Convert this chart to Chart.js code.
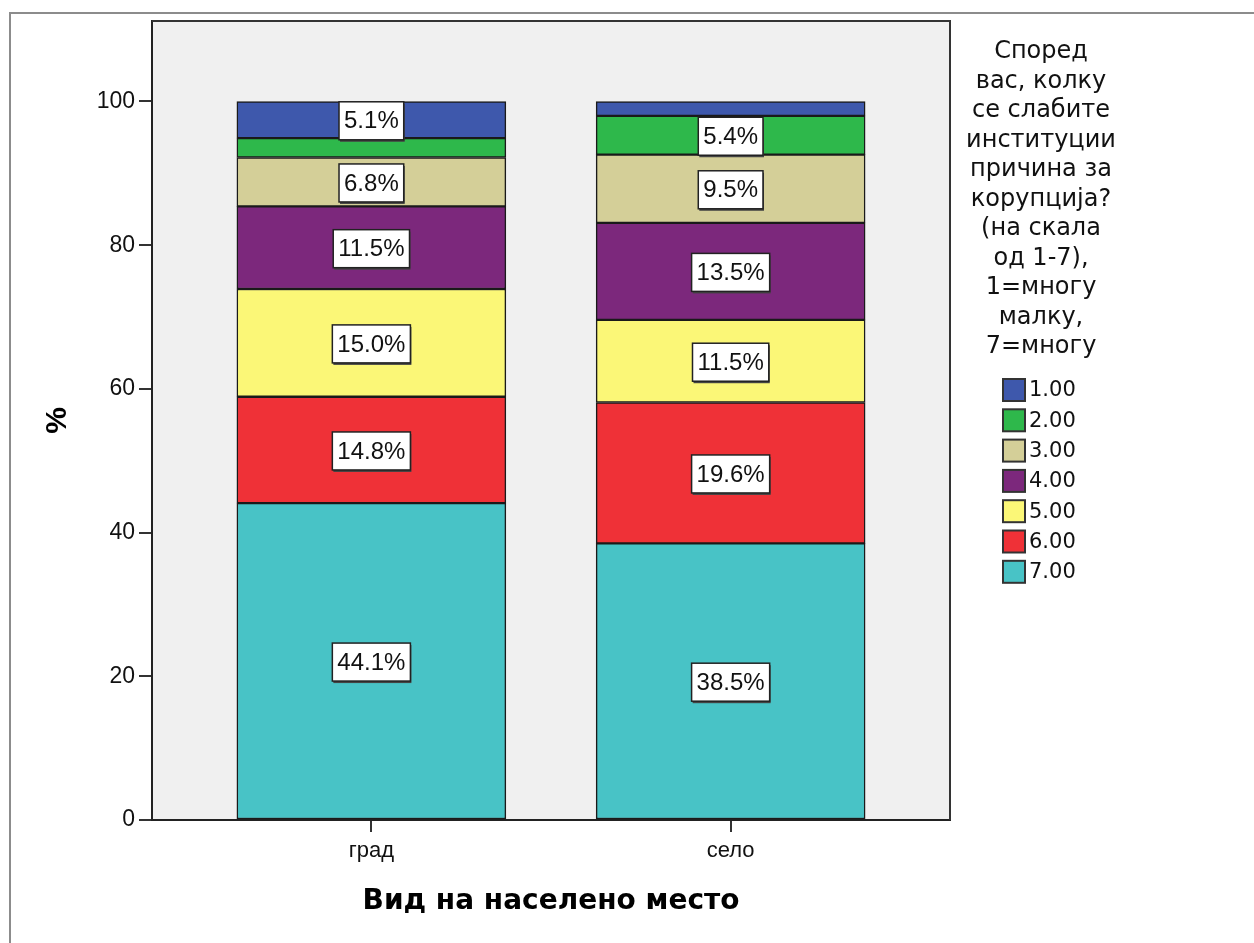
<!DOCTYPE html>
<html>
<head>
<meta charset="utf-8">
<script src="https://cdn.jsdelivr.net/npm/chart.js@4.4.1/dist/chart.umd.min.js"></script>
<style>
  html, body { margin: 0; padding: 0; background: #fff; }
  #wrap { position: relative; width: 1254px; height: 943px; overflow: hidden; }
  #frame { position: absolute; left: 9px; top: 12px; width: 1300px; height: 1000px;
           border-left: 2px solid #8c8c8c; border-top: 2px solid #8c8c8c; }
  canvas { position: absolute; left: 0; top: 0; }
</style>
</head>
<body>
<div id="wrap">
  <div id="frame"></div>
  <canvas id="chart" width="1254" height="943"></canvas>
</div>
<script>
// категории (x оска)
const categories = ['град', 'село'];
// нивоа на скалата, 1.00 .. 7.00
const levels = ['1.00', '2.00', '3.00', '4.00', '5.00', '6.00', '7.00'];
// проценти по ниво, [град, село]
const pct1 = [5.1, 2.0];
const pct2 = [2.7, 5.4];
const pct3 = [6.8, 9.5];
const pct4 = [11.5, 13.5];
const pct5 = [15.0, 11.5];
const pct6 = [14.8, 19.6];
const pct7 = [44.1, 38.5];
const yTicks = [0, 20, 40, 60, 80, 100];
const colors = ['#3e58ac', '#2eb84b', '#d4cf98', '#7c287c', '#fbf777', '#ef3137', '#48c3c6'];
const legendTitle = ['Според', 'вас, колку', 'се слабите', 'институции', 'причина за',
  'корупција?', '(на скала', 'од 1-7),', '1=многу', 'малку,', '7=многу'];

const allPct = [pct1, pct2, pct3, pct4, pct5, pct6, pct7];

// 7.00 е најдолу, па редоследот е обратен
const datasets = [];
for (let i = levels.length - 1; i >= 0; i--) {
  datasets.push({
    label: levels[i],
    data: categories.map((c, k) => ({ x: k, y: allPct[i][k] })),
    backgroundColor: colors[i],
    borderColor: '#1a1a1a',
    borderWidth: 1.5,
    borderSkipped: false,
    barThickness: 269
  });
}

// позадина и рамка на плотот
const plotFrame = {
  id: 'plotFrame',
  beforeDraw(chart) {
    const { ctx, chartArea: a } = chart;
    ctx.save();
    ctx.fillStyle = '#f0f0f0';
    ctx.fillRect(a.left, a.top, a.right - a.left, a.bottom - a.top);
    ctx.restore();
  },
  afterDraw(chart) {
    const { ctx, chartArea: a } = chart;
    ctx.save();
    ctx.strokeStyle = '#333';
    ctx.lineWidth = 2;
    ctx.beginPath();
    ctx.moveTo(a.left, a.top);
    ctx.lineTo(a.right, a.top);
    ctx.lineTo(a.right, a.bottom);
    ctx.stroke();
    ctx.restore();
  }
};

// етикети со процент во бело поле
const boxLabels = {
  id: 'boxLabels',
  afterDatasetsDraw(chart) {
    const ctx = chart.ctx;
    ctx.save();
    ctx.font = '24px "Liberation Sans", Arial, sans-serif';
    ctx.textAlign = 'center';
    ctx.textBaseline = 'middle';
    chart.data.datasets.forEach((ds, di) => {
      const meta = chart.getDatasetMeta(di);
      meta.data.forEach((el, k) => {
        const v = ds.data[k].y;
        if (v < 3) return;
        const txt = v.toFixed(1) + '%';
        const cx = el.x;
        const cy = (el.y + el.base) / 2 + 1;
        const w = ctx.measureText(txt).width + 10;
        const h = 38;
        ctx.fillStyle = '#444';
        ctx.fillRect(cx - w / 2 + 1, cy - h / 2 + 2, w, h);
        ctx.fillStyle = '#fff';
        ctx.fillRect(cx - w / 2, cy - h / 2, w, h);
        ctx.strokeStyle = '#222';
        ctx.lineWidth = 1.5;
        ctx.strokeRect(cx - w / 2, cy - h / 2, w, h);
        ctx.fillStyle = '#111';
        ctx.fillText(txt, cx, cy + 1);
      });
    });
    ctx.restore();
  }
};

// легенда десно
const sideLegend = {
  id: 'sideLegend',
  afterDraw(chart) {
    const ctx = chart.ctx;
    ctx.save();
    ctx.fillStyle = '#111';
    ctx.font = '24px "DejaVu Sans", sans-serif';
    ctx.textAlign = 'center';
    ctx.textBaseline = 'alphabetic';
    legendTitle.forEach((line, i) => {
      ctx.fillText(line, 1041, 58 + i * 29.5);
    });
    ctx.font = '21px "DejaVu Sans", sans-serif';
    ctx.textAlign = 'left';
    ctx.textBaseline = 'middle';
    levels.forEach((lab, i) => {
      const y = 390 + i * 30.3;
      ctx.fillStyle = colors[i];
      ctx.fillRect(1003, y - 11, 22, 22);
      ctx.strokeStyle = '#333';
      ctx.lineWidth = 2;
      ctx.strokeRect(1003, y - 11, 22, 22);
      ctx.fillStyle = '#111';
      ctx.fillText(lab, 1029, y + 1);
    });
    ctx.restore();
  }
};

new Chart(document.getElementById('chart'), {
  type: 'bar',
  data: { datasets },
  plugins: [plotFrame, boxLabels, sideLegend],
  options: {
    responsive: false,
    animation: false,
    devicePixelRatio: 1,
    layout: { padding: { left: 0, top: 21, right: 304, bottom: 0 } },
    plugins: {
      legend: { display: false },
      tooltip: { enabled: false }
    },
    scales: {
      x: {
        type: 'linear',
        min: -0.6106,
        max: 1.6106,
        offset: false,
        stacked: true,
        afterBuildTicks: s => { s.ticks = categories.map((c, k) => ({ value: k })); },
        afterFit: s => { s.height = 123; },
        ticks: {
          callback: v => categories[v],
          font: { family: '"Liberation Sans", Arial, sans-serif', size: 22 },
          color: '#111',
          padding: 6,
          maxRotation: 0
        },
        grid: { offset: false, drawOnChartArea: false, tickLength: 12, color: '#333', lineWidth: 2 },
        border: { color: '#222', width: 2 },
        title: {
          display: true,
          text: 'Вид на населено место',
          font: { family: '"DejaVu Sans", sans-serif', size: 28, weight: 'bold' },
          color: '#000',
          padding: { top: 0, bottom: 24 }
        }
      },
      y: {
        stacked: true,
        min: 0,
        max: 111.2,
        afterBuildTicks: s => { s.ticks = yTicks.map(v => ({ value: v })); },
        afterFit: s => { s.width = 152; },
        ticks: {
          font: { family: '"Liberation Sans", Arial, sans-serif', size: 23 },
          color: '#111',
          padding: 4
        },
        grid: { drawOnChartArea: false, tickLength: 13, color: '#333', lineWidth: 2 },
        border: { color: '#222', width: 2 },
        title: {
          display: true,
          text: '%',
          font: { family: '"Liberation Sans", Arial, sans-serif', size: 30, weight: 'bold' },
          color: '#000',
          padding: { top: 40, bottom: 0 }
        }
      }
    }
  }
});
</script>
</body>
</html>
